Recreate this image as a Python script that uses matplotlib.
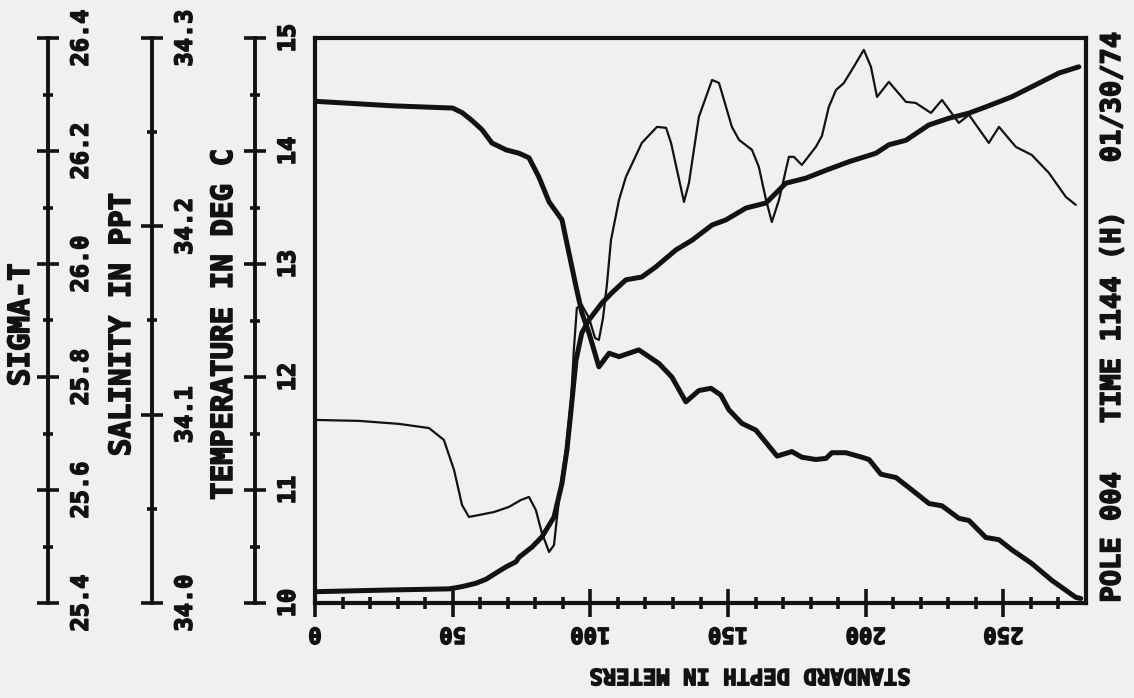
import matplotlib
matplotlib.use('Agg')
import matplotlib.pyplot as plt
import matplotlib.patheffects as pe
from matplotlib.ticker import MultipleLocator, FixedLocator

# ---------------- data ----------------
depth_temp = [0, 28, 50, 53.4, 57, 60.6, 64.3, 69.4, 74.1, 77.7, 81.3, 85, 89.7, 92.2, 94.8,
              96.9, 99.5, 103.1, 106.8, 110.4, 117.6, 124.9, 129.6, 134.7, 139.4, 143.8,
              147.4, 150.3, 155, 160.1, 163.8, 167.8, 173.2, 176.8, 181.9, 185.6, 187.7,
              192.8, 198.6, 201.2, 205.5, 211, 216.8, 223, 227.7, 233.8, 237.5, 243.6,
              248.4, 253.1, 260.3, 267.6, 276.3, 278.1]
temperature = [14.44, 14.40, 14.38, 14.34, 14.27, 14.19, 14.07, 14.01, 13.98, 13.94, 13.77,
               13.55, 13.39, 13.10, 12.80, 12.57, 12.39, 12.09, 12.21, 12.18, 12.24, 12.12,
               12.00, 11.78, 11.88, 11.90, 11.84, 11.71, 11.59, 11.53, 11.42, 11.30, 11.34,
               11.29, 11.27, 11.28, 11.33, 11.33, 11.29, 11.27, 11.14, 11.11, 11.00, 10.88,
               10.86, 10.75, 10.73, 10.58, 10.56, 10.47, 10.35, 10.20, 10.05, 10.04]

depth_sigma = [0, 26.9, 48.7, 53.4, 58.5, 62.1, 65.7, 69.4, 73, 74.1, 78.8, 82.4, 86.8, 89.7,
               91.5, 93, 94.8, 96.9, 99.5, 104.2, 107.8, 112.9, 118.7, 123.8, 131.1, 136.9,
               144.2, 149.2, 156.5, 163.8, 171, 178.3, 185.6, 193.9, 203.7, 208.4, 214.6,
               222.9, 230.2, 237.5, 243.6, 253.1, 262.9, 270.2, 277.4]
sigma_t = [25.420, 25.423, 25.425, 25.429, 25.435, 25.442, 25.453, 25.464, 25.473, 25.481,
           25.499, 25.517, 25.552, 25.612, 25.671, 25.742, 25.830, 25.878, 25.901, 25.931,
           25.949, 25.972, 25.977, 25.995, 26.025, 26.042, 26.069, 26.078, 26.099, 26.108,
           26.143, 26.152, 26.166, 26.181, 26.196, 26.211, 26.219, 26.246, 26.258, 26.267,
           26.278, 26.296, 26.320, 26.338, 26.349]

depth_sal = [0, 16, 30.5, 41.4, 46.8, 50.5, 53.4, 55.9, 59.5, 65, 70.4, 74.8, 77.7, 80.2,
             82.4, 85, 86.8, 87.9, 89.3, 91.1, 93, 94, 95.1, 96.9, 99.5, 101.7, 103.1,
             104.6, 106, 107.5, 110.4, 112.9, 118.7, 124.2, 127.5, 129.3, 134, 135.8,
             139.4, 144.2, 146.7, 151.4, 154, 158.7, 161.2, 163.8, 165.9, 168.5, 172.1,
             173.9, 176.8, 181.9, 184.1, 186.6, 189.2, 192, 195, 199.3, 201.9, 204.1,
             208.4, 214.6, 218.2, 223.7, 227.7, 233.8, 237.5, 244.7, 248.4, 254.5, 260.3,
             266.5, 272.7, 276.3]
salinity = [34.0972, 34.0967, 34.0951, 34.0929, 34.0866, 34.0706, 34.0520, 34.0457, 34.0467,
            34.0483, 34.0510, 34.0547, 34.0563, 34.0494, 34.0372, 34.0271, 34.0308, 34.0457,
            34.0637, 34.0813, 34.1078, 34.1344, 34.1567, 34.1583, 34.1514, 34.1407, 34.1397,
            34.1514, 34.1689, 34.1928, 34.2140, 34.2262, 34.2443, 34.2528, 34.2523, 34.2443,
            34.2130, 34.2230, 34.2581, 34.2777, 34.2762, 34.2528, 34.2459, 34.2406, 34.2315,
            34.2140, 34.2023, 34.2140, 34.2369, 34.2369, 34.2326, 34.2422, 34.2480, 34.2634,
            34.2724, 34.2760, 34.2831, 34.2937, 34.2847, 34.2687, 34.2767, 34.2661, 34.2655,
            34.2602, 34.2671, 34.2549, 34.2592, 34.2443, 34.2528, 34.2422, 34.2379, 34.2284,
            34.2156, 34.2114]

depth_major = [0, 50, 100, 150, 200, 250]
depth_labels = ['0', '50', '100', '150', '200', '250']
sigma_major = [25.4, 25.6, 25.8, 26.0, 26.2, 26.4]
sigma_labels = ['25.4', '25.6', '25.8', '26.0', '26.2', '26.4']
sal_major = [34.0, 34.1, 34.2, 34.3]
sal_labels = ['34.0', '34.1', '34.2', '34.3']
temp_major = [10, 11, 12, 13, 14, 15]
temp_labels = ['10', '11', '12', '13', '14', '15']

FONT = dict(family='DejaVu Sans Mono', weight='bold')

BG = '#f0f0ee'
INK = '#121212'
HEAVY = [pe.withStroke(linewidth=1.1, foreground=INK)]

W, H = 1134, 698
fig = plt.figure(figsize=(W / 100, H / 100), dpi=100, facecolor=BG)


def fx(px):
    return px / W


def fy(py):
    return 1 - py / H


TOP, BOT, LEFT, RIGHT = 38, 603, 315, 1086

# ---------------- main plot ----------------
ax = fig.add_axes([fx(LEFT), fy(BOT), fx(RIGHT) - fx(LEFT), fy(TOP) - fy(BOT)])
ax.set_facecolor('none')
ax.set_xlim(0, 280)
ax.set_ylim(10, 15)
ax.set_yticks([])
for s in ax.spines.values():
    s.set_linewidth(3.0)
    s.set_color(INK)
    s.set_zorder(5)
ax.xaxis.set_major_locator(FixedLocator(depth_major))
ax.xaxis.set_minor_locator(FixedLocator([v for v in range(10, 280, 10) if v % 50]))
ax.set_xticklabels(depth_labels)
ax.tick_params(axis='x', which='major', direction='inout', length=20, width=2.6,
               color=INK, pad=5, labelrotation=180, labelsize=16, labelcolor=INK)
ax.tick_params(axis='x', which='minor', direction='inout', length=8.5, width=2.6, color=INK)
for lab in ax.get_xticklabels():
    lab.set_fontfamily(FONT['family'])
    lab.set_fontweight('bold')
    lab.set_path_effects(HEAVY)

ax.plot(depth_temp, temperature, color=INK, lw=3.6, solid_joinstyle='round',
        solid_capstyle='round', zorder=3)

ax_s = ax.twinx()
ax_s.set_ylim(25.4, 26.4)
ax_s.axis('off')
ax_s.plot(depth_sigma, sigma_t, color=INK, lw=3.6, solid_joinstyle='round',
          solid_capstyle='round', zorder=3)

ax_p = ax.twinx()
ax_p.set_ylim(34.0, 34.3)
ax_p.axis('off')
ax_p.plot(depth_sal, salinity, color=INK, lw=1.6, solid_joinstyle='round',
          solid_capstyle='round', zorder=3)

# ---------------- left scales ----------------
scales = [
    (48, (25.4, 26.4), sigma_major, sigma_labels, 0.1, 'SIGMA-T', 21),
    (152, (34.0, 34.3), sal_major, sal_labels, 0.05, 'SALINITY IN PPT', 122),
    (255, (10, 15), temp_major, temp_labels, 0.5, 'TEMPERATURE IN DEG C', 224),
]
for xpos, lim, major, labels, minor_step, title, tx in scales:
    a = fig.add_axes([fx(xpos - 1), fy(BOT), fx(1), fy(TOP) - fy(BOT)])
    a.set_facecolor('none')
    a.set_ylim(*lim)
    a.set_xticks([])
    for k in ('left', 'top', 'bottom'):
        a.spines[k].set_visible(False)
    a.spines['right'].set_linewidth(2.8)
    a.spines['right'].set_color(INK)
    a.yaxis.set_ticks_position('right')
    a.yaxis.set_major_locator(FixedLocator(major))
    a.yaxis.set_minor_locator(MultipleLocator(minor_step))
    a.set_yticklabels(labels)
    a.tick_params(axis='y', which='major', direction='inout', length=16, width=2.6,
                  color=INK, pad=7, labelrotation=90, labelsize=17, labelcolor=INK)
    a.tick_params(axis='y', which='minor', direction='inout', length=6.5, width=2.6, color=INK)
    for lab in a.get_yticklabels():
        lab.set_fontfamily(FONT['family'])
        lab.set_fontweight('bold')
        lab.set_va('center')
        lab.set_path_effects(HEAVY)
    fig.text(fx(tx), fy(325), title, rotation=90, ha='center', va='center',
             fontsize=21, color=INK, path_effects=HEAVY, **FONT)

# ---------------- other texts ----------------
fig.text(fx(750), fy(675), 'STANDARD DEPTH IN METERS', rotation=180, ha='center',
         va='center', fontsize=16, color=INK, path_effects=HEAVY, **FONT)
fig.text(fx(1113), fy(316), 'POLE 004   TIME 1144 (H)   01/30/74', rotation=90,
         ha='center', va='center', fontsize=19.5, color=INK, path_effects=HEAVY, **FONT)

fig.savefig('out.png', dpi=100, facecolor=BG)
